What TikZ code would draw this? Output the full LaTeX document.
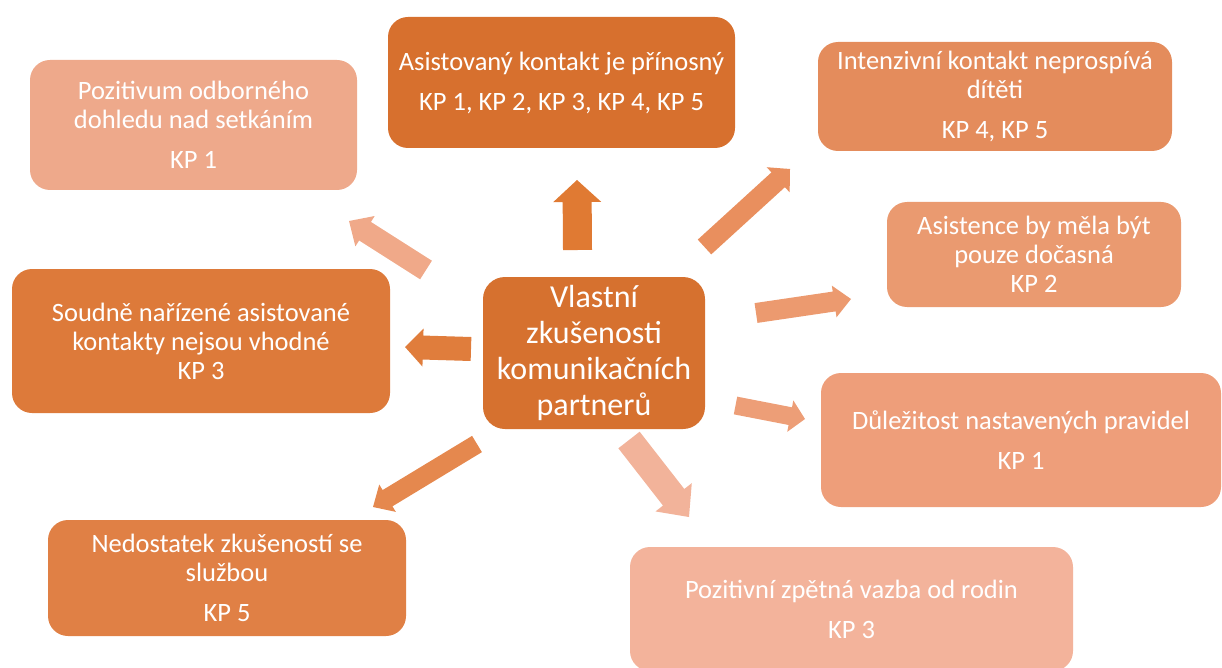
\documentclass[tikz,border=0pt]{standalone}
\usepackage{fontspec}
\setmainfont{Carlito}
\usetikzlibrary{calc}
\definecolor{cA}{HTML}{EEA98B}
\definecolor{cB}{HTML}{D7702E}
\definecolor{cC}{HTML}{E48C5C}
\definecolor{cD}{HTML}{EA9A70}
\definecolor{cE}{HTML}{DD7A3A}
\definecolor{cF}{HTML}{D6712F}
\definecolor{cG}{HTML}{EE9E7A}
\definecolor{cH}{HTML}{E08045}
\definecolor{cI}{HTML}{F3B39B}
\definecolor{aUp}{HTML}{E07A33}
\definecolor{aUL}{HTML}{F0A989}
\definecolor{aRU}{HTML}{E98F5E}
\definecolor{aR}{HTML}{EC9A6F}
\definecolor{aRD}{HTML}{ED9E77}
\definecolor{aDR}{HTML}{F2B39A}
\definecolor{aDL}{HTML}{E5884E}
\definecolor{aL}{HTML}{E07D3C}
\newcommand\barrow[6]{%
  \coordinate (#3n) at ($(#3)!#6!(#2)$);
  \fill[#1] ($(#2)!#4!90:(#3)$) -- ($(#3n)!#4!90:(#3)$) -- ($(#3n)!#5!90:(#3)$) -- (#3)
    -- ($(#3n)!#5!-90:(#3)$) -- ($(#3n)!#4!-90:(#3)$) -- ($(#2)!#4!-90:(#3)$) -- cycle;}
\begin{document}
\begin{tikzpicture}[x=1pt,y=-1pt,
  box/.style={rounded corners=20pt, inner sep=0pt, align=center, text=white,
    font=\fontsize{26.5}{29}\selectfont},
  centre/.style={box, rounded corners=22pt, font=\fontsize{32}{36}\selectfont}]
\useasboundingbox (0,0) rectangle (1222,668);
% boxes
\node[box, fill=cA, minimum width=327pt, minimum height=130pt] (poz) at (193.5,125)
  {Pozitivum odborného\\dohledu nad setkáním\\[11pt]KP 1};
\node[box, fill=cB, minimum width=347pt, minimum height=131pt] (asi) at (561.5,82.5)
  {Asistovaný kontakt je přínosný\\[11pt]KP 1, KP 2, KP 3, KP 4, KP 5};
\node[box, fill=cC, minimum width=354pt, minimum height=109pt] (int) at (995,96.5)
  {Intenzivní kontakt neprospívá\\dítěti\\[11pt]KP 4, KP 5};
\node[box, fill=cD, minimum width=294pt, minimum height=105pt] (doc) at (1034,254.5)
  {Asistence by měla být\\pouze dočasná\\KP 2};
\node[box, fill=cE, minimum width=378pt, minimum height=144pt] (sou) at (201,341)
  {Soudně nařízené asistované\\kontakty nejsou vhodné\\KP 3};
\node[centre, fill=cF, minimum width=222pt, minimum height=152pt] (cen) at (594,353)
  {Vlastní\\zkušenosti\\komunikačních\\partnerů};
\node[box, fill=cG, minimum width=400pt, minimum height=134pt] (dul) at (1021,440)
  {Důležitost nastavených pravidel\\[11pt]KP 1};
\node[box, fill=cH, minimum width=358pt, minimum height=116pt] (ned) at (227,578)
  {Nedostatek zkušeností se\\službou\\[11pt]KP 5};
\node[box, fill=cI, minimum width=443pt, minimum height=124pt] (zpe) at (851.5,609)
  {Pozitivní zpětná vazba od rodin\\[11pt]KP 3};
% arrow end points
\coordinate (upT) at (577.5,250); \coordinate (upH) at (577,180);
\coordinate (ulT) at (426,270);   \coordinate (ulH) at (349,221);
\coordinate (ruT) at (704.5,247); \coordinate (ruH) at (790,169);
\coordinate (rT)  at (756,313);   \coordinate (rH)  at (851,299);
\coordinate (rdT) at (735.5,405.5); \coordinate (rdH) at (805,419);
\coordinate (drT) at (629,440);   \coordinate (drH) at (689,517);
\coordinate (dlT) at (477,444);   \coordinate (dlH) at (373,507);
\coordinate (lT)  at (471,349);   \coordinate (lH)  at (405,347);
% arrows
\barrow{aUp}{upT}{upH}{14.5pt}{24pt}{22pt}
\barrow{aUL}{ulT}{ulH}{11pt}{18pt}{19pt}
\barrow{aRU}{ruT}{ruH}{10pt}{17pt}{16pt}
\barrow{aR}{rT}{rH}{10pt}{16pt}{17pt}
\barrow{aRD}{rdT}{rdH}{9pt}{16pt}{15pt}
\barrow{aDR}{drT}{drH}{13.5pt}{23pt}{25pt}
\barrow{aDL}{dlT}{dlH}{9.5pt}{16pt}{17pt}
\barrow{aL}{lT}{lH}{12pt}{19pt}{18pt}
\end{tikzpicture}
\end{document}
